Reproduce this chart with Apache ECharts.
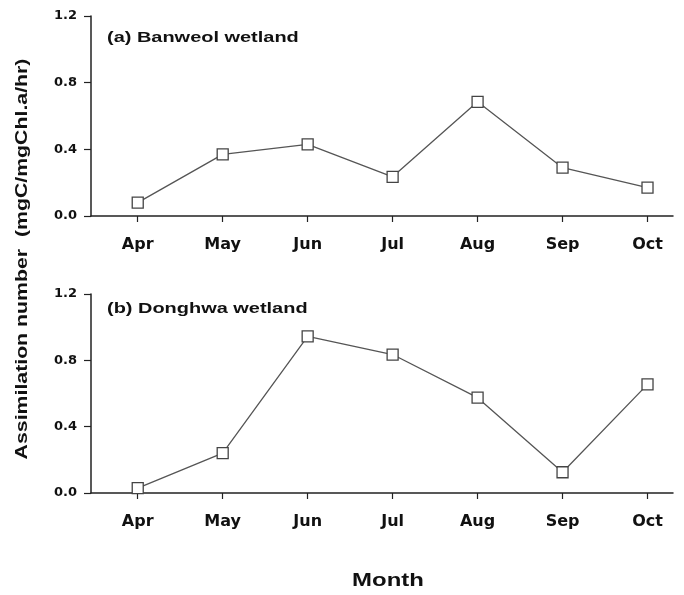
<!DOCTYPE html>
<html>
<head>
<meta charset="utf-8">
<script src="https://cdn.jsdelivr.net/npm/echarts@6/dist/echarts.min.js"></script>
<style>html,body{margin:0;padding:0;background:#fff}#c{width:684px;height:595px}</style>
</head>
<body>
<div id="c"></div>
<script>
var months = ['Apr','May','Jun','Jul','Aug','Sep','Oct'];
var banweol = [0.08, 0.37, 0.43, 0.235, 0.685, 0.29, 0.17];
var donghwa = [0.03, 0.24, 0.945, 0.835, 0.575, 0.125, 0.655];
var yTicks = [0, 0.4, 0.8, 1.2];
var panelTitles = ['(a) Banweol wetland', '(b) Donghwa wetland'];
var yTitle = 'Assimilation number  (mgC/mgChl.a/hr)';
var xTitle = 'Month';

var font = 'Liberation Sans, Arial, sans-serif';
var wide = 'DejaVu Sans, sans-serif';
var idx = months.map(function(m, i){ return i; });

function xAxis(gi){
  return {
    type: 'value', gridIndex: gi, min: -0.55, max: 6.3,
    axisLine: {show: true, onZero: false, lineStyle: {color: '#222', width: 1.5}},
    axisTick: {show: true, customValues: idx, length: 6, lineStyle: {color: '#222', width: 1.2}},
    axisLabel: {show: true, customValues: idx, margin: 21, color: '#111', fontWeight: 'bold', fontSize: 16, fontFamily: wide,
      formatter: function(v){ return months[Math.round(v)]; }},
    splitLine: {show: false}
  };
}
function yAxis(gi){
  return {
    type: 'value', gridIndex: gi, min: 0, max: 1.2, interval: 0.4,
    axisLine: {show: true, onZero: false, lineStyle: {color: '#222', width: 1.5}},
    axisTick: {show: true, customValues: yTicks, length: 7, lineStyle: {color: '#222', width: 1.2}},
    axisLabel: {customValues: yTicks, margin: 14, color: '#111', fontWeight: 'bold', fontSize: 13, fontFamily: wide,
      formatter: function(v){ return v.toFixed(1); }},
    splitLine: {show: false}
  };
}
function series(gi, vals){
  return {
    type: 'line', xAxisIndex: gi, yAxisIndex: gi,
    data: vals.map(function(v, i){ return [idx[i], v]; }),
    symbol: 'rect', symbolSize: 11,
    itemStyle: {color: '#fff', borderColor: '#444', borderWidth: 1.3},
    lineStyle: {color: '#555', width: 1.3},
    animation: false
  };
}

var chart = echarts.init(document.getElementById('c'), null, {renderer: 'canvas'});
chart.setOption({
  backgroundColor: '#fff',
  animation: false,
  grid: [
    {left: 91, width: 582, top: 16, height: 200},
    {left: 91, width: 582, top: 294, height: 199}
  ],
  xAxis: [xAxis(0), xAxis(1)],
  yAxis: [yAxis(0), yAxis(1)],
  series: [series(0, banweol), series(1, donghwa)],
  graphic: [
    {type: 'text', x: 107, y: 38, scaleX: 1.33,
      style: {text: panelTitles[0], fill: '#111', font: 'bold 15px ' + font, verticalAlign: 'middle'}},
    {type: 'text', x: 107, y: 309, scaleX: 1.33,
      style: {text: panelTitles[1], fill: '#111', font: 'bold 15px ' + font, verticalAlign: 'middle'}},
    {type: 'text', x: 23, y: 259, rotation: Math.PI / 2, scaleX: 1.33,
      style: {text: yTitle, fill: '#111', font: 'bold 16px ' + font, align: 'center', verticalAlign: 'middle'}},
    {type: 'text', x: 388, y: 581, scaleX: 1.33,
      style: {text: xTitle, fill: '#111', font: 'bold 18px ' + font, align: 'center', verticalAlign: 'middle'}}
  ]
});
</script>
</body>
</html>
